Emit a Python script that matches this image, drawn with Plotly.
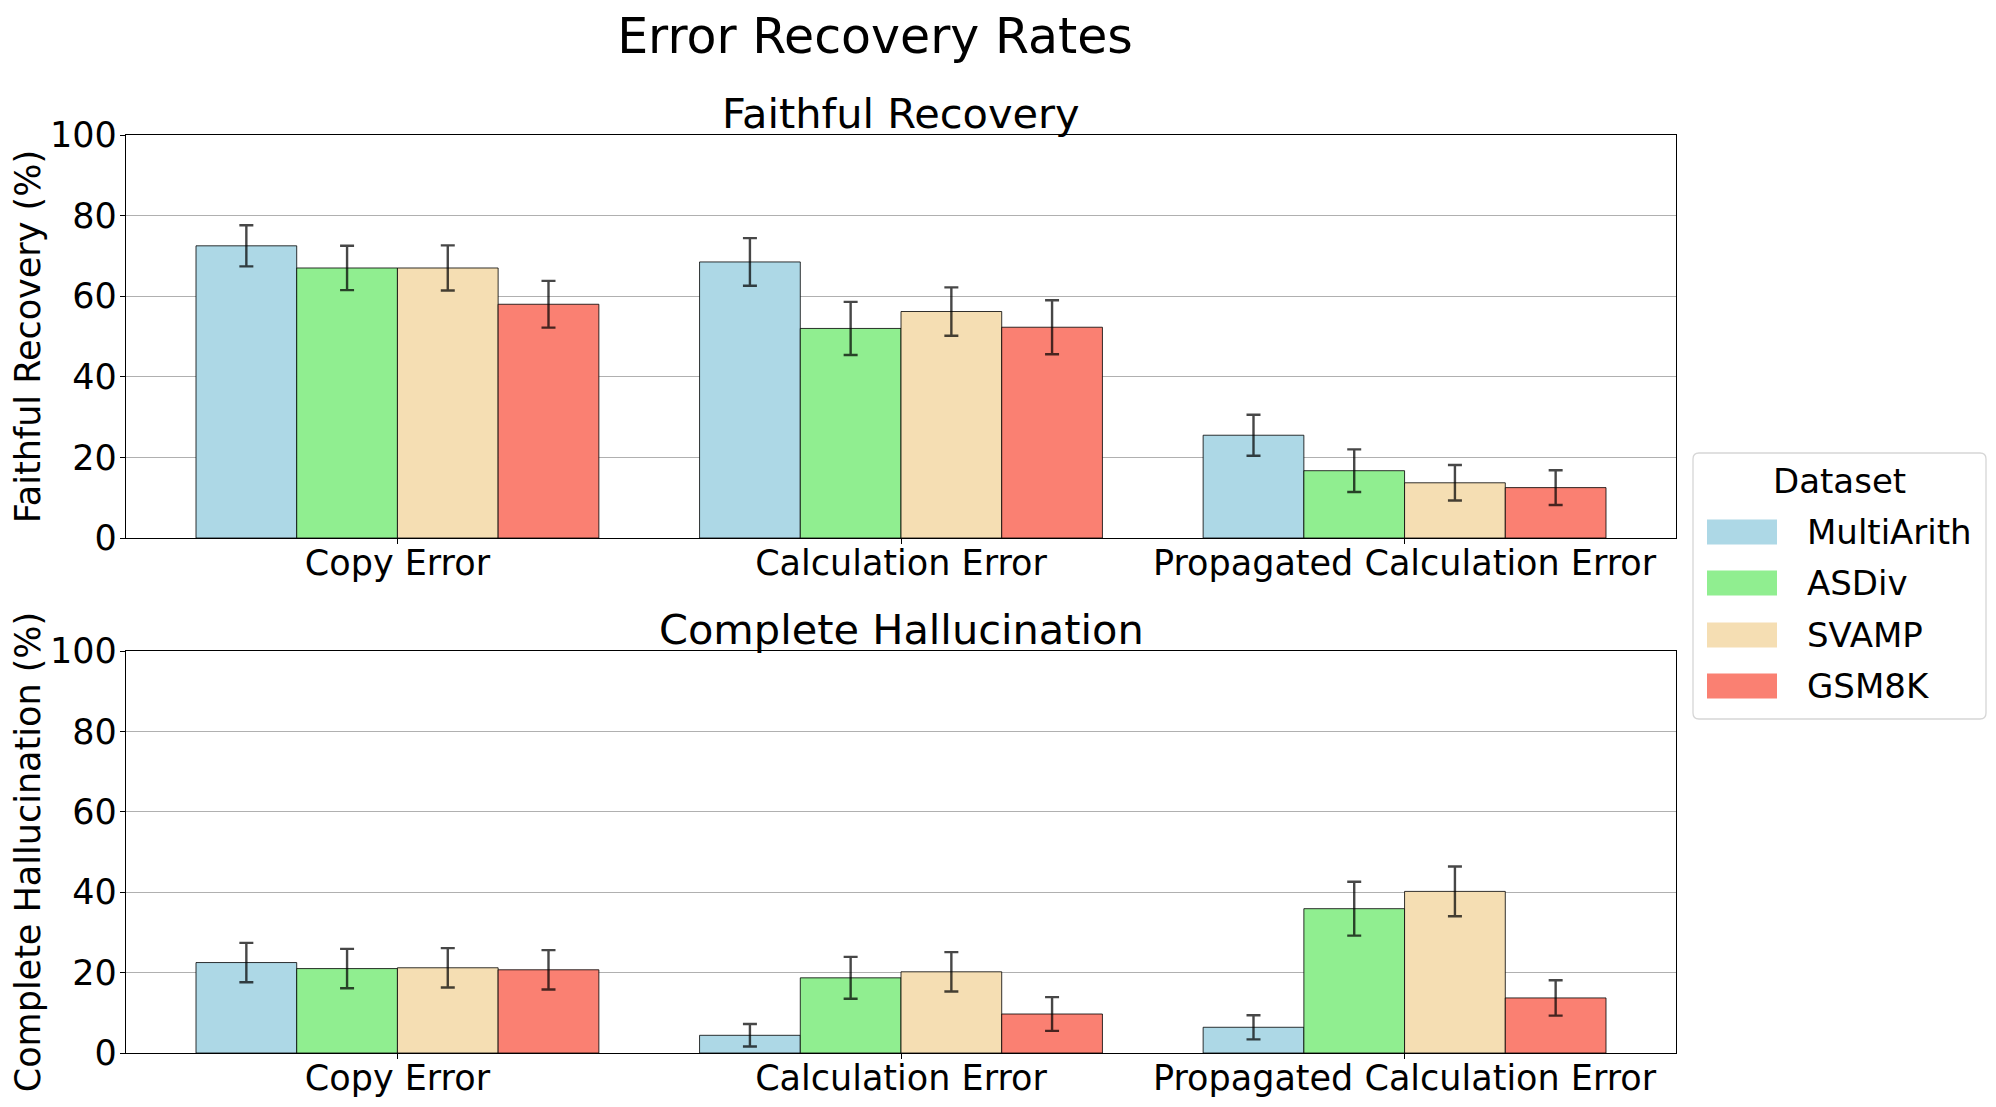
import plotly.graph_objects as go

# ---------------- data ----------------
categories = ["Copy Error", "Calculation Error", "Propagated Calculation Error"]
datasets = ["MultiArith", "ASDiv", "SVAMP", "GSM8K"]
colors = ["#ADD8E6", "#90EE90", "#F5DEB3", "#FA8072"]

faithful_multiarith = [72.5, 68.5, 25.5]
faithful_asdiv = [67.0, 52.0, 16.7]
faithful_svamp = [67.0, 56.2, 13.7]
faithful_gsm8k = [58.0, 52.3, 12.5]

faithful_err_multiarith = [5.1, 5.9, 5.1]
faithful_err_asdiv = [5.5, 6.6, 5.3]
faithful_err_svamp = [5.6, 6.0, 4.4]
faithful_err_gsm8k = [5.8, 6.7, 4.3]

halluc_multiarith = [22.5, 4.4, 6.4]
halluc_asdiv = [21.0, 18.7, 35.9]
halluc_svamp = [21.2, 20.2, 40.2]
halluc_gsm8k = [20.7, 9.7, 13.7]

halluc_err_multiarith = [4.9, 2.8, 3.0]
halluc_err_asdiv = [4.9, 5.2, 6.7]
halluc_err_svamp = [4.9, 4.9, 6.2]
halluc_err_gsm8k = [4.9, 4.2, 4.4]

y_ticks = [0, 20, 40, 60, 80, 100]

faithful_vals = [faithful_multiarith, faithful_asdiv, faithful_svamp, faithful_gsm8k]
faithful_errs = [faithful_err_multiarith, faithful_err_asdiv, faithful_err_svamp, faithful_err_gsm8k]
halluc_vals = [halluc_multiarith, halluc_asdiv, halluc_svamp, halluc_gsm8k]
halluc_errs = [halluc_err_multiarith, halluc_err_asdiv, halluc_err_svamp, halluc_err_gsm8k]

# ---------------- layout geometry (screen pixels) ----------------
SW, SH = 1996, 1107          # screenshot size
OFF = 8                      # page body margin
W, H = SW - OFF, SH - OFF    # figure size
PL, PR, PT, PB = 126, 1676, 135, 1053  # plot area in screen pixels
FONT = "DejaVu Sans"


def px_x(px):
    return (px - PL) / (PR - PL)


def px_y(py):
    return (PB - py) / (PB - PT)


fig = go.Figure()

for vals, errs, xa, ya in [(faithful_vals, faithful_errs, "x", "y"),
                           (halluc_vals, halluc_errs, "x2", "y2")]:
    for name, color, v, e in zip(datasets, colors, vals, errs):
        fig.add_trace(go.Bar(
            x=categories, y=v, name=name,
            marker=dict(color=color, line=dict(color="rgba(0,0,0,0.8)", width=1)),
            error_y=dict(type="data", array=e, visible=True,
                         color="rgba(0,0,0,0.72)", thickness=2.4, width=7),
            xaxis=xa, yaxis=ya, showlegend=False,
        ))

top_dom = [px_y(538), 1.0]
bot_dom = [0.0, px_y(651)]

axis_common = dict(showline=True, linecolor="black", linewidth=1.3, mirror=True,
                   ticks="outside", ticklen=5, tickwidth=1, tickcolor="black",
                   automargin=False)

x_common = dict(axis_common, type="category", range=[-0.539, 2.539],
                tickfont=dict(family=FONT, size=35, color="black"), showgrid=False,
                ticklabelstandoff=-11)
y_common = dict(axis_common, range=[0, 100], tickvals=y_ticks,
                tickfont=dict(family=FONT, size=35, color="black"),
                showgrid=True, gridcolor="#b0b0b0", gridwidth=1, zeroline=False,
                ticklabelstandoff=-4)

fig.update_layout(
    width=W, height=H,
    margin=dict(l=PL - OFF, r=SW - PR, t=PT - OFF, b=SH - PB, autoexpand=False),
    paper_bgcolor="white", plot_bgcolor="white",
    barmode="group", bargap=0.2, bargroupgap=0,
    font=dict(family=FONT, color="black"),
    xaxis=dict(x_common, domain=[0, 1], anchor="y"),
    yaxis=dict(y_common, domain=top_dom, anchor="x",
               title=dict(text="Faithful Recovery (%)", font=dict(family=FONT, size=35), standoff=10)),
    xaxis2=dict(x_common, domain=[0, 1], anchor="y2"),
    yaxis2=dict(y_common, domain=bot_dom, anchor="x2",
                title=dict(text="Complete Hallucination (%)", font=dict(family=FONT, size=35), standoff=10)),
    title=dict(text="Error Recovery Rates", font=dict(family=FONT, size=49, color="black"),
               xref="paper", x=px_x(875), xanchor="center",
               yref="container", y=1 - (36 - OFF) / H, yanchor="middle"),
)

# subplot titles
fig.add_annotation(text="Faithful Recovery", xref="paper", yref="paper",
                   x=0.5, y=px_y(113), xanchor="center", yanchor="middle",
                   showarrow=False, font=dict(family=FONT, size=41.5, color="black"))
fig.add_annotation(text="Complete Hallucination", xref="paper", yref="paper",
                   x=0.5, y=px_y(629), xanchor="center", yanchor="middle",
                   showarrow=False, font=dict(family=FONT, size=41.5, color="black"))

# ---------------- custom legend ----------------
lx0, lx1, ly0, ly1, r = 1693, 1986, 453, 719, 6
path = (f"M {lx0 + r},{ly0} L {lx1 - r},{ly0} Q {lx1},{ly0} {lx1},{ly0 + r} "
        f"L {lx1},{ly1 - r} Q {lx1},{ly1} {lx1 - r},{ly1} L {lx0 + r},{ly1} "
        f"Q {lx0},{ly1} {lx0},{ly1 - r} L {lx0},{ly0 + r} Q {lx0},{ly0} {lx0 + r},{ly0} Z")


def conv_path(p):
    out = []
    for tok in p.split(" "):
        if "," in tok:
            a, b = tok.split(",")
            out.append(f"{px_x(float(a)):.5f},{px_y(float(b)):.5f}")
        else:
            out.append(tok)
    return " ".join(out)


fig.add_shape(type="path", path=conv_path(path), xref="paper", yref="paper",
              line=dict(color="#d6d6d6", width=1.3), fillcolor="rgba(255,255,255,0.8)",
              layer="above")
fig.add_annotation(text="Dataset", xref="paper", yref="paper",
                   x=px_x((lx0 + lx1) / 2), y=px_y(481), xanchor="center", yanchor="middle",
                   showarrow=False, font=dict(family=FONT, size=34, color="black"))
entry_y = [532, 583, 635, 686]
for name, color, cy in zip(datasets, colors, entry_y):
    fig.add_shape(type="rect", xref="paper", yref="paper",
                  x0=px_x(1707), x1=px_x(1777), y0=px_y(cy - 12.5), y1=px_y(cy + 12.5),
                  fillcolor=color, line=dict(width=0), layer="above")
    fig.add_annotation(text=name, xref="paper", yref="paper",
                       x=px_x(1805), y=px_y(cy), xanchor="left", yanchor="middle",
                       showarrow=False, font=dict(family=FONT, size=34, color="black"))

fig.write_html("out.html")
